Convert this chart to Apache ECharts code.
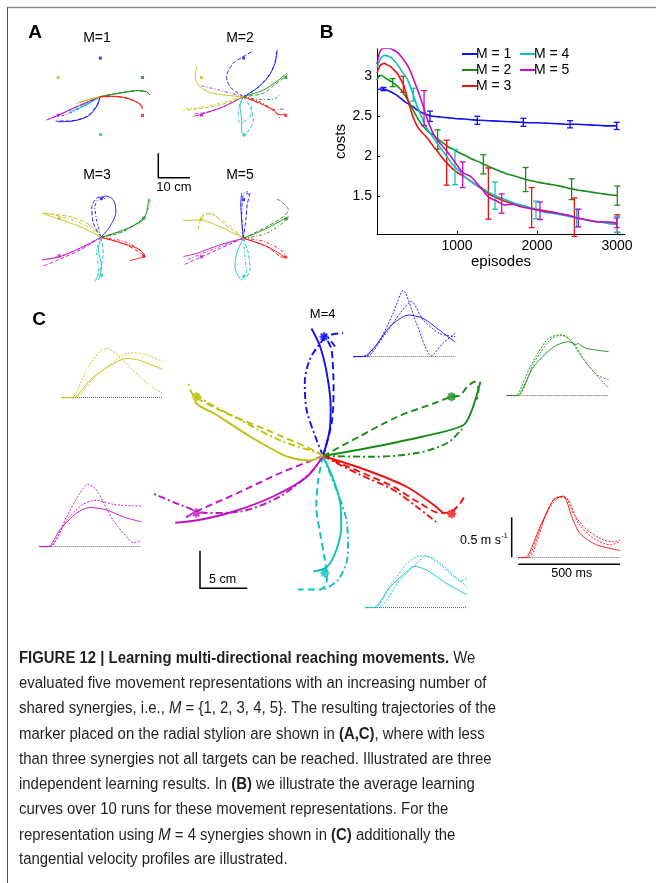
<!DOCTYPE html>
<html><head><meta charset="utf-8">
<script src="https://cdn.jsdelivr.net/npm/echarts@6/dist/echarts.min.js"></script>
<style>html,body{margin:0;padding:0;background:#fff}#c{width:656px;height:883px}</style>
</head><body><div id="c"></div><script>
// ---------- DATA ----------
const colorNames = ['blue','green','red','cyan','magenta','yellow'];
const targetX = [0.1, 13.4, 13.4, 0.2, -13.2, -13.2];
const targetY = [15.9, 7.9, -7.7, -15.6, -7.6, 7.9];

// Panel A trajectories (cm), three runs per target
const trajA_M1 = {
  blue: [[[0,0],[-0.8,-3.5],[-3.5,-7.8],[-8.5,-10],[-13.5,-10.3]], [[0,0],[-1.2,-4],[-4.5,-8.3],[-10,-10],[-14,-10]], [[0,0],[-4,-3],[-9,-6.5],[-12.5,-8]]],
  green: [[[0,0],[4,1],[8,1.8],[11.6,2.5],[14.7,2.1],[15.6,0.8]], [[0,0],[4.5,1.2],[9,2.2],[12.5,2.6],[15.2,1.8]], [[0,0],[4,0.9],[8.5,1.9],[12,2.4],[15,1.6],[15.8,0.5]]],
  red: [[[0,0],[4,0.2],[8,-0.4],[11,-1.8],[13.1,-3.5],[13.4,-5]], [[0,0],[4.5,0],[8.5,-0.6],[11.5,-2.2],[13.2,-4]], [[0,0],[4,0.1],[8.2,-0.5],[11.2,-2],[13,-3.8],[13.3,-5.2]]],
  cyan: [[[0,0],[-3.5,-2.8],[-8,-5.5],[-10,-6.5]], [[0,0],[-3,-2.2],[-7,-4.6]], [[0,0],[-4,-3],[-9,-6]]],
  magenta: [[[0,0],[-4,-2.2],[-8.5,-4.8],[-13,-7.5],[-17,-9.6]], [[0,0],[-4.5,-2.5],[-9,-5.2],[-13,-7.6],[-16.5,-9.4]], [[0,0],[-4,-2.4],[-8.8,-5],[-13.2,-7.7]]],
  yellow: [[[0,0],[-3.5,-1.2],[-7.5,-2.8]], [[0,0],[-3,-1],[-6.5,-2.4]], [[0,0],[-3.8,-1.3],[-7,-2.6]]]
};
const trajA_M2 = {
  blue: [[[0,0],[4.2,3.4],[7.9,8.2],[10,13.7],[10.7,19.2]], [[0,0],[-2.5,2.2],[-4.2,4.1],[-5.3,8.2],[-3.2,13.7],[0,16.5],[3.2,18.9]], [[0,0],[4,3],[7.5,7.8],[9.8,13.2],[10.5,18.5]]],
  green: [[[0,0],[6.3,2.7],[10.5,6.2],[13.1,8.9],[13.7,9.6]], [[0,0],[6.3,1.4],[10.5,5.5],[13.5,8.5],[14,9.2]], [[0,0],[5.3,-1.1],[9.5,-1.1],[11.4,0.7]]],
  red: [[[0,0],[5.3,-2.7],[9.5,-5.5],[11.6,-7.5],[13.1,-7.1]], [[0,0],[6.3,-3.4],[10,-6.2],[11.6,-8.9]], [[0,0],[5.3,-2.1],[10.5,-5.5],[13.1,-4.8]]],
  cyan: [[[0,0],[-1.05,-4.1],[-0.5,-9.6],[-0.5,-15.1]], [[0,0],[2.1,-4.1],[3.2,-9.6],[1.05,-15.1],[-0.5,-17.1]], [[0,0],[-1.6,-5.5],[-1.05,-11],[2.1,-8.2],[2.6,-4.1]]],
  magenta: [[[0,0],[-6.3,-4.1],[-13.7,-7.5],[-15.8,-8]], [[0,0],[-7.4,-4.8],[-12,-6.5],[-15.3,-7]], [[0,0],[-7.4,2.7],[-13.2,4.4]]],
  yellow: [[[0,0],[-9.5,1.4],[-13.7,4.1],[-15.2,8.2],[-14.7,12.3]], [[0,0],[-7.4,-3.4],[-15.8,-5.2],[-18.9,-5.5]], [[0,0],[-8,-2.8],[-14,-4.5],[-18,-5]]]
};
const trajA_M3 = {
  blue: [[[0,0],[2.8,4.4],[4.7,10.6],[3.9,15.4],[1.3,17],[-0.1,16]], [[0,0],[-2.4,5.8],[-2.9,12.6],[-1.4,16],[0.2,16.7],[1.6,15.4]], [[0,0],[-1.4,7.1],[-1.9,12.6],[-0.8,16]]],
  green: [[[0,0],[7,3],[13.3,7.1],[14.4,10.6],[15.1,16]], [[0,0],[7,2.3],[13.9,8.2]], [[0,0],[8,3.2],[13.8,8.5],[15.5,15.5]]],
  red: [[[0,0],[7,-2.5],[12.3,-5.2],[13.9,-8],[12.8,-8.4],[9.1,-9.6]], [[0,0],[8.1,-3.2],[13.4,-7.3]], [[0,0],[7.6,-1.8],[12.9,-5.9],[13.9,-8.2]]],
  cyan: [[[0,0],[-0.8,-5.2],[0.2,-12.1],[-0.8,-17.6]], [[0,0],[0.7,-6.6],[-0.3,-13.4],[-1.9,-18.2]], [[0,0],[-1.4,-5.9],[-0.8,-12.8],[-1.4,-16.9]]],
  magenta: [[[0,0],[-5.6,-3.8],[-12.9,-8],[-18.7,-9.3]], [[0,0],[-6.6,-5.2],[-13.5,-9.3],[-18.7,-12.1]], [[0,0],[-6,-4.2],[-12.5,-7.6],[-17,-8.8]]],
  yellow: [[[0,0],[-6.6,4.4],[-14,7.8],[-18.7,9.9]], [[0,0],[-3.5,5.1],[-9.8,8.5],[-18.2,9.9]], [[0,0],[-5,5],[-12,8.3],[-18.5,10.2]]]
};
const trajA_M5 = {
  blue: [[[0,0],[-0.5,7.5],[-0.8,14.4],[-0.5,18.5]], [[0,0],[0.8,7.5],[1.3,14.4],[2.1,18.5],[1.05,19.2]], [[0,0],[-0.5,8.9],[-0.2,16.5],[0.5,18.8],[2.1,17.8]]],
  green: [[[0,0],[6.3,3.4],[13.2,8.2],[14.2,8.9]], [[0,0],[7.4,4.8],[12.6,8.9],[14.2,11.7],[11.6,15.5],[10.5,16]], [[0,0],[7.4,2.1],[13.7,7.5],[14.2,8.6]]],
  red: [[[0,0],[6.3,-2.7],[10.5,-5.5],[13.1,-7.8]], [[0,0],[7.4,-3.4],[11.6,-7.5],[13.1,-7.8]], [[0,0],[6.8,-1.4],[12.6,-5.5],[13.1,-7.5]]],
  cyan: [[[0,0],[-2.1,-6.2],[-2.6,-11.7],[-0.5,-17.1],[0,-16.5]], [[0,0],[1.6,-6.2],[2.1,-13],[0.5,-17.1]], [[0,0],[0.5,-7.5],[1.05,-14.4],[-0.2,-16]]],
  magenta: [[[0,0],[-7.4,-2.7],[-14.7,-6.2],[-18.9,-7.5]], [[0,0],[-8.4,-4.8],[-18.9,-11]], [[0,0],[-7.4,-3.4],[-17.9,-8.9]]],
  yellow: [[[0,0],[-7.4,4.8],[-13.7,7.5],[-18.9,7.3]], [[0,0],[-6.3,6.2],[-10.5,10.3],[-13.1,8.9],[-14.2,3.4]], [[0,0],[-5.3,6.2],[-11.6,10.3],[-13.1,8.9]]]
};

// Panel B learning curves (episodes, costs)
const curveM1 = [[0,2.83],[40,2.84],[80,2.84],[120,2.83],[160,2.81],[200,2.79],[250,2.76],[300,2.72],[350,2.68],[400,2.65],[450,2.62],[500,2.58],[550,2.55],[600,2.53],[650,2.51],[700,2.5],[800,2.49],[900,2.48],[1000,2.47],[1100,2.465],[1200,2.455],[1300,2.45],[1400,2.445],[1500,2.44],[1600,2.435],[1700,2.43],[1800,2.425],[1900,2.42],[2000,2.42],[2100,2.415],[2200,2.41],[2300,2.405],[2400,2.4],[2500,2.4],[2600,2.395],[2700,2.39],[2800,2.385],[2900,2.38],[3000,2.38]];
const curveM2 = [[0,2.95],[30,3.01],[60,3.01],[100,2.98],[150,2.95],[200,2.92],[250,2.88],[300,2.83],[350,2.76],[400,2.68],[450,2.58],[500,2.49],[550,2.41],[600,2.35],[650,2.3],[700,2.27],[750,2.22],[800,2.19],[850,2.15],[900,2.11],[950,2.09],[1000,2.06],[1100,2.01],[1200,1.96],[1300,1.92],[1400,1.87],[1500,1.83],[1600,1.79],[1700,1.76],[1800,1.73],[1900,1.7],[2000,1.68],[2100,1.66],[2200,1.645],[2300,1.625],[2400,1.6],[2500,1.58],[2600,1.565],[2700,1.55],[2800,1.535],[2900,1.52],[3000,1.51]];
const curveM3 = [[0,3.04],[30,3.12],[60,3.15],[90,3.16],[130,3.14],[170,3.12],[210,3.08],[250,3.04],[290,2.97],[330,2.9],[370,2.76],[410,2.62],[450,2.49],[500,2.38],[550,2.31],[600,2.26],[650,2.2],[700,2.13],[750,2.07],[800,2],[850,1.94],[900,1.89],[950,1.84],[1000,1.8],[1050,1.77],[1100,1.74],[1200,1.67],[1300,1.6],[1400,1.53],[1500,1.48],[1600,1.44],[1700,1.41],[1800,1.39],[1900,1.36],[2000,1.34],[2100,1.32],[2200,1.3],[2300,1.28],[2400,1.26],[2500,1.23],[2600,1.21],[2700,1.19],[2800,1.18],[2900,1.17],[3000,1.16]];
const curveM4 = [[0,3.1],[30,3.19],[60,3.24],[100,3.26],[140,3.25],[180,3.23],[220,3.19],[260,3.14],[300,3.08],[340,3.02],[380,2.96],[420,2.86],[460,2.75],[500,2.63],[540,2.53],[580,2.44],[620,2.36],[670,2.28],[720,2.21],[770,2.14],[820,2.07],[870,2],[920,1.93],[970,1.87],[1000,1.84],[1050,1.79],[1100,1.74],[1200,1.67],[1300,1.61],[1400,1.55],[1500,1.5],[1600,1.46],[1700,1.42],[1800,1.39],[1900,1.36],[2000,1.33],[2100,1.3],[2200,1.29],[2300,1.27],[2400,1.25],[2500,1.23],[2600,1.21],[2700,1.19],[2800,1.18],[2900,1.16],[3000,1.15]];
const curveM5 = [[0,3.15],[30,3.29],[60,3.34],[100,3.35],[150,3.35],[200,3.33],[250,3.3],[300,3.25],[350,3.18],[400,3.1],[450,2.98],[500,2.85],[540,2.74],[580,2.62],[620,2.49],[660,2.38],[700,2.29],[750,2.21],[800,2.15],[850,2.09],[900,2.03],[950,1.96],[1000,1.89],[1050,1.82],[1100,1.78],[1150,1.76],[1200,1.72],[1250,1.66],[1300,1.61],[1350,1.54],[1400,1.49],[1450,1.46],[1500,1.44],[1550,1.41],[1600,1.39],[1650,1.4],[1700,1.4],[1800,1.37],[1900,1.35],[2000,1.33],[2100,1.31],[2200,1.3],[2300,1.28],[2400,1.26],[2500,1.23],[2600,1.21],[2700,1.19],[2800,1.18],[2900,1.18],[3000,1.17]];
// error bars: [episode, mean, half-range]
const errM1 = [[80,2.84,0.02],[662,2.5,0.065],[1254,2.45,0.05],[1829,2.425,0.05],[2413,2.4,0.045],[2996,2.38,0.045]];
const errM2 = [[196,2.92,0.05],[758,2.21,0.12],[1329,1.9,0.12],[1858,1.71,0.15],[2433,1.59,0.13],[3004,1.51,0.12]];
const errM3 = [[329,2.9,0.1],[871,1.92,0.28],[1392,1.535,0.32],[1933,1.36,0.25],[2467,1.24,0.24],[3004,1.16,0.11]];
const errM4 = [[454,2.77,0.08],[975,1.865,0.22],[1475,1.51,0.17],[1987,1.33,0.11],[2496,1.23,0.11],[3004,1.15,0.1]];
const errM5 = [[588,2.6,0.22],[1071,1.77,0.16],[1558,1.41,0.12],[2037,1.32,0.11],[2517,1.23,0.11],[2996,1.17,0.06]];
const legendB = ['M = 1','M = 2','M = 3','M = 4','M = 5'];
const xTicksB = [1000,2000,3000];
const yTicksB = [1.5,2,2.5,3];

// Panel C trajectories (cm): solid, dashed, dash-dot
const trajC = {
  blue: [[[0,0],[0.7,3.5],[0.8,6.6],[0.4,11],[-0.3,14.6],[-1.2,17]], [[0,0],[0.9,4.4],[1.1,8.8],[0.9,14.1],[0.4,15.5],[0,15.9],[2.1,16.4]], [[0,0],[-0.8,2.6],[-1.7,6.1],[-1.9,9.7],[-1.4,12.8],[-0.3,15],[0.4,15.9],[0.9,15.2],[1.25,14.6]]],
  green: [[[0,0],[5.2,1.2],[10.4,2.6],[14.6,4.1],[15.5,6.1],[16.4,9.9]], [[0,0],[3.5,2.4],[7.7,5.2],[11.5,7],[13.4,7.9],[14.3,8.1],[15,9.2],[15.8,9.9],[16.2,8.8],[16,7.5]], [[0,0],[5.2,-0.1],[9.8,0.4],[12.9,1.7],[14.4,3.5],[14.6,4.1]]],
  red: [[[0,0],[4.55,-1.9],[8.7,-4.1],[11.5,-6.5],[12.5,-7.6]], [[0,0],[4.55,-2.5],[7.3,-4.1],[10.1,-6.3],[12.2,-7.6],[13.4,-7.4],[14.3,-6.3],[14.8,-5.2]], [[0,0],[3.85,-2.5],[7.3,-4.5],[9.8,-6.8],[11.1,-8.1],[11.8,-8.8]]],
  cyan: [[[0,0],[1.1,-3.2],[1.8,-6.3],[1.9,-9.4],[1.4,-12.5],[0.4,-14.8],[-1,-15.4]], [[0,0],[-0.5,-3.2],[-0.7,-6.8],[-0.3,-10.3],[0.2,-13.9],[0.4,-16.5],[-0.3,-17.8],[-2.6,-17.8]], [[0,0],[1.4,-4.5],[2.5,-9],[2.6,-13],[1.6,-16.5],[-0.1,-17.9]]],
  magenta: [[[0,0],[-1.7,-2.8],[-5.2,-5.4],[-9.3,-7.4],[-12.8,-8.5],[-15.4,-8.9]], [[0,0],[-4.5,-2.3],[-9,-5],[-13.2,-7.4],[-13.9,-7.9],[-14.4,-8.3]], [[0,0],[-1.35,-2.3],[-4.5,-5.4],[-8.6,-7.4],[-12.1,-7.6],[-14.9,-6.5],[-17.7,-5]]],
  yellow: [[[0,0],[-1.35,-0.6],[-2.4,-0.5],[-4.1,0.13],[-7.6,2.6],[-11.1,5.5],[-13.3,7.3],[-13.2,8]], [[0,0],[-0.7,0.6],[-5.9,3.5],[-10.4,5.9],[-13.5,8.1],[-14,9.6]], [[0,0],[-0.3,0.3],[-4.5,2.1],[-8.6,4.8],[-12.1,7.2],[-13.3,8.4]]]
};
// Panel C velocity profiles (ms, m/s)
const velBlue = [[[0,0],[57,0.01],[114,0.15],[179,0.375],[269,0.52],[342,0.48],[423,0.33],[500,0.18]], [[0,0],[57,0],[130,0.21],[195,0.54],[244,0.83],[309,0.42],[383,0.01],[440,0.17],[500,0.29]], [[0,0],[65,0],[147,0.25],[228,0.54],[285,0.69],[342,0.46],[423,0.29],[500,0.25]]];
const velGreen = [[[0,0],[49,0],[131,0.36],[230,0.61],[303,0.675],[340,0.64],[352,0.655],[362,0.63],[393,0.59],[500,0.55]], [[0,0],[41,0],[115,0.36],[197,0.7],[254,0.76],[303,0.72],[377,0.45],[443,0.26],[500,0.2]], [[0,0],[57,0],[131,0.4],[213,0.7],[270,0.76],[328,0.65],[393,0.4],[500,0.09]]];
const velRed = [[[0,0],[33,0],[107,0.39],[172,0.72],[221,0.77],[262,0.51],[303,0.3],[385,0.16],[500,0.09]], [[0,0],[41,0],[123,0.47],[189,0.76],[230,0.76],[270,0.55],[336,0.35],[418,0.22],[467,0.2],[500,0.22]], [[0,0],[49,0],[139,0.55],[205,0.76],[246,0.72],[295,0.43],[369,0.24],[451,0.16],[500,0.2]]];
const velCyan = [[[0,0],[41,0],[123,0.26],[205,0.45],[238,0.52],[303,0.47],[402,0.3],[500,0.16]], [[0,0],[49,0],[131,0.3],[205,0.55],[270,0.65],[336,0.62],[434,0.41],[500,0.26]], [[0,0],[66,0],[172,0.35],[254,0.55],[295,0.65],[361,0.55],[434,0.39],[467,0.33],[500,0.37]]];
const velMagenta = [[[0,0],[44,0],[101,0.21],[182,0.42],[248,0.49],[329,0.46],[410,0.375],[500,0.31]], [[0,0],[52,0],[134,0.375],[199,0.67],[239,0.78],[280,0.71],[362,0.33],[443,0.08],[459,0.05],[500,0.08]], [[0,0],[52,0],[134,0.33],[215,0.53],[280,0.58],[362,0.53],[459,0.51],[500,0.51]]];
const velYellow = [[[0,0],[60,0],[141,0.22],[222,0.37],[319,0.49],[383,0.47],[500,0.35]], [[0,0],[52,0],[125,0.35],[189,0.575],[222,0.62],[270,0.55],[351,0.35],[432,0.16],[500,0.05]], [[0,0],[68,0],[157,0.24],[238,0.41],[335,0.56],[400,0.55],[500,0.45]]];
const velBaseline = [[0,0],[500,0]];

const captionLines = [
  '{b|FIGURE 12 | Learning multi-directional reaching movements.} We',
  'evaluated five movement representations with an increasing number of',
  'shared synergies, i.e., {i|M} = {1, 2, 3, 4, 5}. The resulting trajectories of the',
  'marker placed on the radial stylion are shown in {b|(A,C)}, where with less',
  'than three synergies not all targets can be reached. Illustrated are three',
  'independent learning results. In {b|(B)} we illustrate the average learning',
  'curves over 10 runs for these movement representations. For the',
  'representation using {i|M} = 4 synergies shown in {b|(C)} additionally the',
  'tangential velocity profiles are illustrated.'
];

// ---------- STYLE / LAYOUT ----------
const COL = {blue:'#1010f0', green:'#1a8a1a', red:'#f01010', cyan:'#10c0c0', magenta:'#c010c0', yellow:'#c0c010'};
const FONT = 'Liberation Sans, Arial, sans-serif';
const grids = [], xAxes = [], yAxes = [], series = [];
function addGrid(g, xr, yr) {
  grids.push(Object.assign({outerBoundsMode:'none', containLabel:false}, g));
  const i = grids.length - 1;
  xAxes.push({type:'value', gridIndex:i, min:xr[0], max:xr[1], show:false});
  yAxes.push({type:'value', gridIndex:i, min:yr[0], max:yr[1], show:false});
  return i;
}
const pxA = 3.17, pyA = 2.43;
function gridA(cx, cy) {
  return addGrid({left:cx-20*pxA, top:cy-20*pyA, width:40*pxA, height:40*pyA}, [-20,20], [-20,20]);
}
const dashA = ['solid', [4,2], [3,2,1,2]];
function addTraj(traj, gi, width, dashes) {
  colorNames.forEach(c => {
    traj[c].forEach((run, k) => {
      series.push({type:'line', xAxisIndex:gi, yAxisIndex:gi, data:run, showSymbol:false, smooth:0.3, silent:true,
        lineStyle:{color:COL[c], width:width, type:dashes[k]}});
    });
  });
}
function addTargets(gi, symbol, size, border) {
  series.push({type:'scatter', xAxisIndex:gi, yAxisIndex:gi, symbol:symbol, symbolSize:size, silent:true, z:5,
    data: targetX.map((x,i)=>({value:[x,targetY[i]], itemStyle: border ? {color:'transparent', borderColor:COL[colorNames[i]], borderWidth:border} : {color:COL[colorNames[i]]}}))});
}
// Panel A
[[trajA_M1,100,96.7],[trajA_M2,243.3,96.7],[trajA_M3,101,237.3],[trajA_M5,243.3,238.3]].forEach(([t,cx,cy]) => {
  const gi = gridA(cx, cy);
  addTargets(gi, 'rect', 3, 0);
  addTraj(t, gi, 0.9, dashA);
});
// Panel B
const gB = grids.length;
grids.push({left:377, top:49, width:248, height:185, outerBoundsMode:'none'});
xAxes.push({type:'value', gridIndex:gB, min:0, max:3100, name:'episodes', nameLocation:'middle', nameGap:19,
  nameTextStyle:{fontSize:15, fontFamily:FONT, color:'#000'},
  axisLine:{lineStyle:{color:'#000', width:1}}, splitLine:{show:false},
  axisTick:{inside:true, length:3, customValues:xTicksB, lineStyle:{color:'#000'}},
  axisLabel:{customValues:xTicksB, formatter:v => String(v), fontSize:14, fontFamily:FONT, color:'#000', margin:5}});
yAxes.push({type:'value', gridIndex:gB, min:1.03, max:3.34, name:'costs', nameLocation:'middle', nameGap:22,
  nameTextStyle:{fontSize:15, fontFamily:FONT, color:'#000'},
  axisLine:{show:true, lineStyle:{color:'#000', width:1}}, splitLine:{show:false},
  axisTick:{show:true, inside:true, length:3, customValues:yTicksB, lineStyle:{color:'#000'}},
  axisLabel:{customValues:yTicksB, formatter:v => String(v), fontSize:14, fontFamily:FONT, color:'#000', margin:5}});
const curvesB = [curveM1, curveM2, curveM3, curveM4, curveM5];
const errsB = [errM1, errM2, errM3, errM4, errM5];
const colB = [COL.blue, COL.green, COL.red, COL.cyan, COL.magenta];
curvesB.forEach((cv, i) => {
  series.push({type:'line', name:legendB[i], xAxisIndex:gB, yAxisIndex:gB, data:cv, showSymbol:false, smooth:0.2,
    lineStyle:{color:colB[i], width:1.6}, itemStyle:{color:colB[i]}, z:3+i});
  series.push({type:'custom', name:'err'+i, xAxisIndex:gB, yAxisIndex:gB, data:errsB[i], z:3+i, encode:{x:0, y:1},
    renderItem:(p, api) => {
      const x = api.value(0), m = api.value(1), e = api.value(2);
      const a = api.coord([x, m+e]), b = api.coord([x, m-e]);
      const st = {stroke:colB[i], lineWidth:1.3};
      return {type:'group', children:[
        {type:'line', shape:{x1:a[0],y1:a[1],x2:b[0],y2:b[1]}, style:st},
        {type:'line', shape:{x1:a[0]-3,y1:a[1],x2:a[0]+3,y2:a[1]}, style:st},
        {type:'line', shape:{x1:b[0]-3,y1:b[1],x2:b[0]+3,y2:b[1]}, style:st}]};
    }});
});
// Panel C main
const gC = addGrid({left:131, top:291, width:42*9.6, height:42*7.5}, [-20,22], [-20,22]);
addTraj(trajC, gC, 1.9, ['solid', [7,4], [7,3,2,3]]);
addTargets(gC, 'path://M0,-10L0,10M-10,0L10,0M-7,-7L7,7M-7,7L7,-7', 9, 2.2);
// Panel C insets
const insetH = 72, insetY = [0, 0.9];
[[velBlue,'blue',353.3,356.7],[velGreen,'green',506.7,395.7],[velRed,'red',518.3,557.7],
 [velCyan,'cyan',365,607.7],[velMagenta,'magenta',39.3,546.7],[velYellow,'yellow',61,397.7]].forEach(([v,c,l,b]) => {
  const gi = addGrid({left:l, top:b-insetH, width:102, height:insetH}, [0,500], insetY);
  series.push({type:'line', xAxisIndex:gi, yAxisIndex:gi, data:velBaseline, showSymbol:false, silent:true,
    lineStyle:{color:'#444', width:1, type:[1,1]}});
  v.forEach((run,k) => series.push({type:'line', xAxisIndex:gi, yAxisIndex:gi, data:run, showSymbol:false, smooth:0.25, silent:true,
    lineStyle:{color:COL[c], width:0.9, type: k===0 ? 'solid' : [2,1.5]}}));
});

// ---------- GRAPHIC ----------
const txt = (x, y, t, size, opt={}) => ({type:'text', x, y, silent:true, style:Object.assign({text:t, fontSize:size, fontFamily:FONT, fill:'#000', align:'center', verticalAlign:'middle'}, opt)});
const ln = (x1,y1,x2,y2,c,w) => ({type:'line', silent:true, shape:{x1,y1,x2,y2}, style:{stroke:c, lineWidth:w}});
const gfx = [
  ln(7,7.5,656,7.5,'#8a8a8a',1.5), ln(7.5,7,7.5,883,'#555',1),
  txt(35,33,'A',19,{fontWeight:'bold'}), txt(326.7,33,'B',19,{fontWeight:'bold'}), txt(39,320,'C',19,{fontWeight:'bold'}),
  txt(97,38,'M=1',14), txt(240,38,'M=2',14), txt(97,175,'M=3',14), txt(240,175,'M=5',14),
  {type:'polyline', silent:true, shape:{points:[[158.3,153.3],[158.3,177.7],[190,177.7]]}, style:{stroke:'#000', lineWidth:1.5, fill:null}},
  txt(174,187,'10 cm',13),
  txt(322.7,314.3,'M=4',13),
  {type:'polyline', silent:true, shape:{points:[[200,550.7],[200,588.3],[247.3,588.3]]}, style:{stroke:'#000', lineWidth:1.5, fill:null}},
  txt(209,580,'5 cm',12.5,{align:'left'}),
  ln(511.7,517.3,511.7,557.3,'#000',1.5), ln(518.3,564.3,620,564.3,'#000',1.5),
  txt(501,541,'0.5 m s',12.5,{align:'right'}), txt(501.5,536,'-1',7,{align:'left'}),
  txt(571.7,574,'500 ms',12.5)
];
const capY = [658.3, 683.3, 709, 734.3, 759.3, 784.3, 810, 835.3, 860];
const capFont = '"Liberation Sans Narrow", "Arial Narrow", sans-serif';
captionLines.forEach((t, i) => {
  gfx.push({type:'text', x:19, y:capY[i], scaleX:0.932, silent:true, style:{text:t, fontSize:16, fontFamily:capFont, fill:'#231f20', align:'left', verticalAlign:'middle',
    rich:{b:{fontSize:16, fontFamily:capFont, fontWeight:'bold', fill:'#231f20'}, i:{fontSize:16, fontFamily:capFont, fontStyle:'italic', fill:'#231f20'}}}});
});

const chart = echarts.init(document.getElementById('c'), null, {renderer:'canvas'});
chart.setOption({
  animation:false, backgroundColor:'#fff',
  grid:grids, xAxis:xAxes, yAxis:yAxes, series:series,
  legend:[
    {data:legendB.slice(0,3), orient:'vertical', left:457, top:42, icon:'rect', itemWidth:15, itemHeight:2, itemGap:2, selectedMode:false,
     textStyle:{fontSize:14, fontFamily:FONT, color:'#000', padding:[0,0,0,-6]}},
    {data:legendB.slice(3), orient:'vertical', left:515, top:42, icon:'rect', itemWidth:15, itemHeight:2, itemGap:2, selectedMode:false,
     textStyle:{fontSize:14, fontFamily:FONT, color:'#000', padding:[0,0,0,-6]}}
  ],
  graphic:{elements:gfx}
});
</script></body></html>
